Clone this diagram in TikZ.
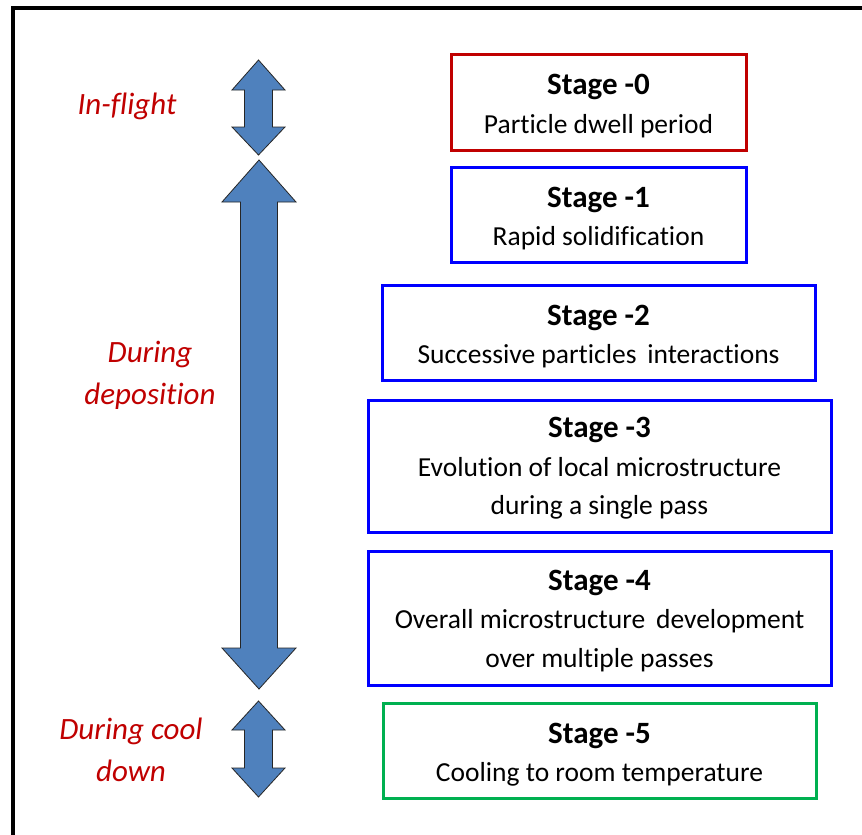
\documentclass[tikz,border=0pt]{standalone}
\usepackage{fontspec}
\setmainfont{Carlito}[Ligatures=NoCommon]
\definecolor{boxred}{HTML}{C00000}
\definecolor{boxblue}{HTML}{0000FF}
\definecolor{boxgreen}{HTML}{00B050}
\definecolor{arrowfill}{HTML}{4F81BD}
\definecolor{labelred}{HTML}{C00000}
\tikzset{
  stagebox/.style={draw, line width=3pt, fill=white, inner sep=0pt},
  stagetext/.style={align=center, inner sep=0pt, font=\fontsize{27.5}{38.5}\selectfont},
  phaselabel/.style={text=labelred, align=center, font=\fontsize{31}{42}\selectfont\itshape},
  blockarrow/.style={fill=arrowfill, draw=black!85, line width=0.8pt, line join=miter}
}
\newcommand{\stagetitle}[1]{{\fontsize{31}{38.5}\selectfont\bfseries #1}}
% double arrow: center x, top tip, head base top, head half width, shaft half width, head base bottom, bottom tip
\newcommand{\dblarrow}[7]{%
  \draw[blockarrow] (#1,#2) -- (#1+#4,#3) -- (#1+#5,#3) -- (#1+#5,#6) -- (#1+#4,#6)
    -- (#1,#7) -- (#1-#4,#6) -- (#1-#5,#6) -- (#1-#5,#3) -- (#1-#4,#3) -- cycle;}
\begin{document}
\begin{tikzpicture}[x=1pt,y=-1pt]
\useasboundingbox (0,0) rectangle (862,835);
\fill[white] (0,0) rectangle (862,835);
% frame
\draw[line width=4pt] (13,835) -- (13,8) -- (862,8);
% arrows
\dblarrow{258.5}{60}{90}{26.5}{14}{127}{155}
\dblarrow{259}{160}{202}{37}{18.5}{648}{689}
\dblarrow{258.5}{701}{730}{26.5}{14}{768}{797}
% labels
\node[phaselabel] (inflight) at (127,106) {In-flight};
\node[phaselabel] (deposition) at (150,375.5) {During\\deposition};
\node[phaselabel] (cooldown) at (131,749.5) {During cool\\down};
% stages
\node[stagebox, draw=boxred, minimum width=295, minimum height=96] (s0) at (598.5,102) {};
\node[stagetext] (s0t) at ([yshift=-4pt]s0.center) {\stagetitle{Stage -0}\\Particle dwell period};
\node[stagebox, draw=boxblue, minimum width=295, minimum height=95] (s1) at (598.5,214.5) {};
\node[stagetext] (s1t) at ([yshift=-4pt]s1.center) {\stagetitle{Stage -1}\\Rapid solidification};
\node[stagebox, draw=boxblue, minimum width=433, minimum height=95] (s2) at (598.5,332.5) {};
\node[stagetext] (s2t) at ([yshift=-4pt]s2.center) {\stagetitle{Stage -2}\\Successive particles\ \,interactions};
\node[stagebox, draw=boxblue, minimum width=463, minimum height=132] (s3) at (599.5,466) {};
\node[stagetext] (s3t) at ([yshift=-2.5pt]s3.center) {\stagetitle{Stage -3}\\Evolution of local microstructure\\during a single pass};
\node[stagebox, draw=boxblue, minimum width=463, minimum height=134] (s4) at (599.5,618) {};
\node[stagetext] (s4t) at ([yshift=-3pt]s4.center) {\stagetitle{Stage -4}\\Overall microstructure\ \,development\\over multiple passes};
\node[stagebox, draw=boxgreen, minimum width=433, minimum height=95] (s5) at (599.5,750.5) {};
\node[stagetext] (s5t) at ([yshift=-4pt]s5.center) {\stagetitle{Stage -5}\\Cooling to room temperature};
\end{tikzpicture}
\end{document}
